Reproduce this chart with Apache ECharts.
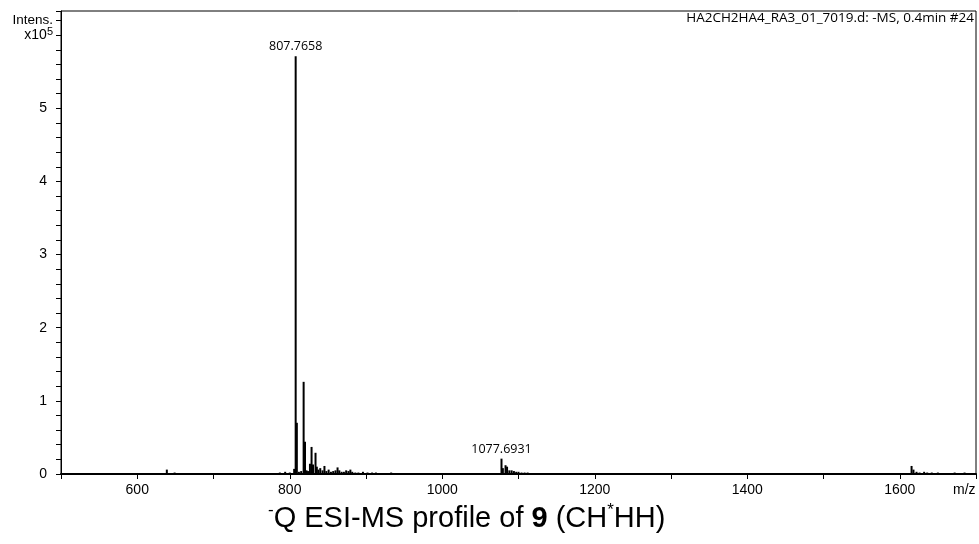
<!DOCTYPE html>
<html>
<head>
<meta charset="utf-8">
<script src="https://cdn.jsdelivr.net/npm/echarts@6/dist/echarts.min.js"></script>
<style>
html,body{margin:0;padding:0;background:#fff;}
#chart{width:979px;height:544px;}
</style>
</head>
<body>
<div id="chart"></div>
<script>
// m/z values of the peaks
var mzValues = [638.8, 649, 741, 787, 794, 800, 805.8, 807.7658, 809.3, 812, 815, 818.2, 820, 822, 824, 826.5, 828.6, 830.5, 833.8, 835.5, 837.5, 840, 843, 845.5, 848, 851, 854, 857, 860, 862.7, 865, 868, 871, 874, 877, 879.5, 882, 886, 890, 896, 902, 908, 913, 933,
  1077.6931, 1079.5, 1083, 1085, 1088, 1091, 1094, 1097, 1100, 1104, 1108, 1112,
  1615.5, 1618, 1622, 1626, 1632, 1636, 1642, 1650, 1660, 1672, 1685];
// intensities (x10^5)
var intensities = [0.06, 0.02, 0.01, 0.02, 0.03, 0.02, 0.07, 5.71, 0.70, 0.03, 0.04, 1.26, 0.44, 0.05, 0.04, 0.14, 0.37, 0.13, 0.29, 0.10, 0.06, 0.08, 0.05, 0.11, 0.04, 0.06, 0.03, 0.04, 0.05, 0.09, 0.05, 0.03, 0.03, 0.05, 0.04, 0.06, 0.03, 0.02, 0.02, 0.03, 0.02, 0.02, 0.02, 0.02,
  0.21, 0.08, 0.12, 0.10, 0.05, 0.05, 0.04, 0.03, 0.03, 0.02, 0.02, 0.02,
  0.11, 0.06, 0.03, 0.02, 0.03, 0.02, 0.02, 0.02, 0.01, 0.02, 0.02];
// annotated peaks
var peakLabels = {'807.7658': '807.7658', '1077.6931': '1077.6931'};
var xTickLabels = ['600', '800', '1000', '1200', '1400', '1600'];
var yTickLabels = ['0', '1', '2', '3', '4', '5'];
var titleText = 'HA2CH2HA4_RA3_01_7019.d: -MS, 0.4min #24';

var data = mzValues.map(function (mz, i) {
  var key = String(mz);
  var item = { value: [mz, intensities[i]] };
  if (peakLabels[key]) {
    item.label = { show: true, position: 'top', distance: 3, formatter: peakLabels[key],
      fontFamily: 'Open Sans', fontSize: 12.5, color: '#000' };
  }
  return item;
});

var chart = echarts.init(document.getElementById('chart'));
chart.setOption({
  animation: false,
  backgroundColor: '#fff',
  grid: { left: 61, right: 3, top: 11, bottom: 70, show: true, borderColor: '#000', borderWidth: 1, containLabel: false },
  xAxis: {
    type: 'value', min: 500, max: 1700, interval: 100,
    axisLine: { show: true, onZero: false, lineStyle: { color: '#000', width: 2 } },
    axisTick: { show: true, inside: false, length: 5, lineStyle: { color: '#000' } },
    splitLine: { show: false },
    axisLabel: {
      margin: 9, fontFamily: 'Liberation Sans', fontSize: 14, color: '#000',
      formatter: function (v) {
        var s = String(Math.round(v));
        return xTickLabels.indexOf(s) >= 0 ? s : '';
      }
    }
  },
  yAxis: {
    type: 'value', min: 0, max: 6.33, interval: 0.2,
    axisLine: { show: true, lineStyle: { color: '#000', width: 1 } },
    axisTick: { show: true, inside: false, length: 5, lineStyle: { color: '#000' } },
    splitLine: { show: false },
    axisLabel: {
      margin: 8, fontFamily: 'Liberation Sans', fontSize: 14, color: '#000',
      rich: { n: { fontFamily: 'Liberation Sans', fontSize: 14, color: '#000' },
              d: { fontFamily: 'Liberation Sans', fontSize: 14, color: '#000', padding: [0, 6, 0, 0] },
              i: { fontFamily: 'Liberation Sans', fontSize: 13.5, color: '#000', padding: [0, 0, 0, 0] },
              s: { fontFamily: 'Liberation Sans', fontSize: 11, color: '#000', verticalAlign: 'top', padding: [0, 0, 7, 0] } },
      formatter: function (v) {
        var r = Math.round(v * 10) / 10;
        if (Math.abs(r - 6) < 1e-6) return '{n|x10}{s|5}';
        if (Math.abs(r - 6.2) < 1e-6) return '{i|Intens.}';
        var s = String(r);
        return yTickLabels.indexOf(s) >= 0 ? '{d|' + s + '}' : '';
      }
    }
  },
  graphic: [
    { type: 'text', right: 5, top: 11, style: { text: titleText, fontFamily: 'Open Sans', fontSize: 13.5, fill: '#000' } },
    { type: 'text', left: 953, top: 483, style: { text: 'm/z', fontFamily: 'Liberation Sans', fontSize: 14, fill: '#000' } },
    { type: 'text', left: 268, top: 502, style: {
        text: '{sup|-}{n|Q ESI-MS profile of }{b|9}{n| (CH}{sup|*}{n|HH)}',
        rich: {
          n: { fontFamily: 'Liberation Sans', fontSize: 29, fill: '#000', lineHeight: 34 },
          b: { fontFamily: 'Liberation Sans', fontSize: 29, fontWeight: 'bold', fill: '#000', lineHeight: 34 },
          sup: { fontFamily: 'Liberation Sans', fontSize: 17, fill: '#000', verticalAlign: 'top', lineHeight: 34, padding: [0, 0, 12, 0] }
        }
    } }
  ],
  series: [{
    type: 'bar', barWidth: 2, itemStyle: { color: '#000' }, data: data,
    label: { show: false }
  }]
});
</script>
</body>
</html>
